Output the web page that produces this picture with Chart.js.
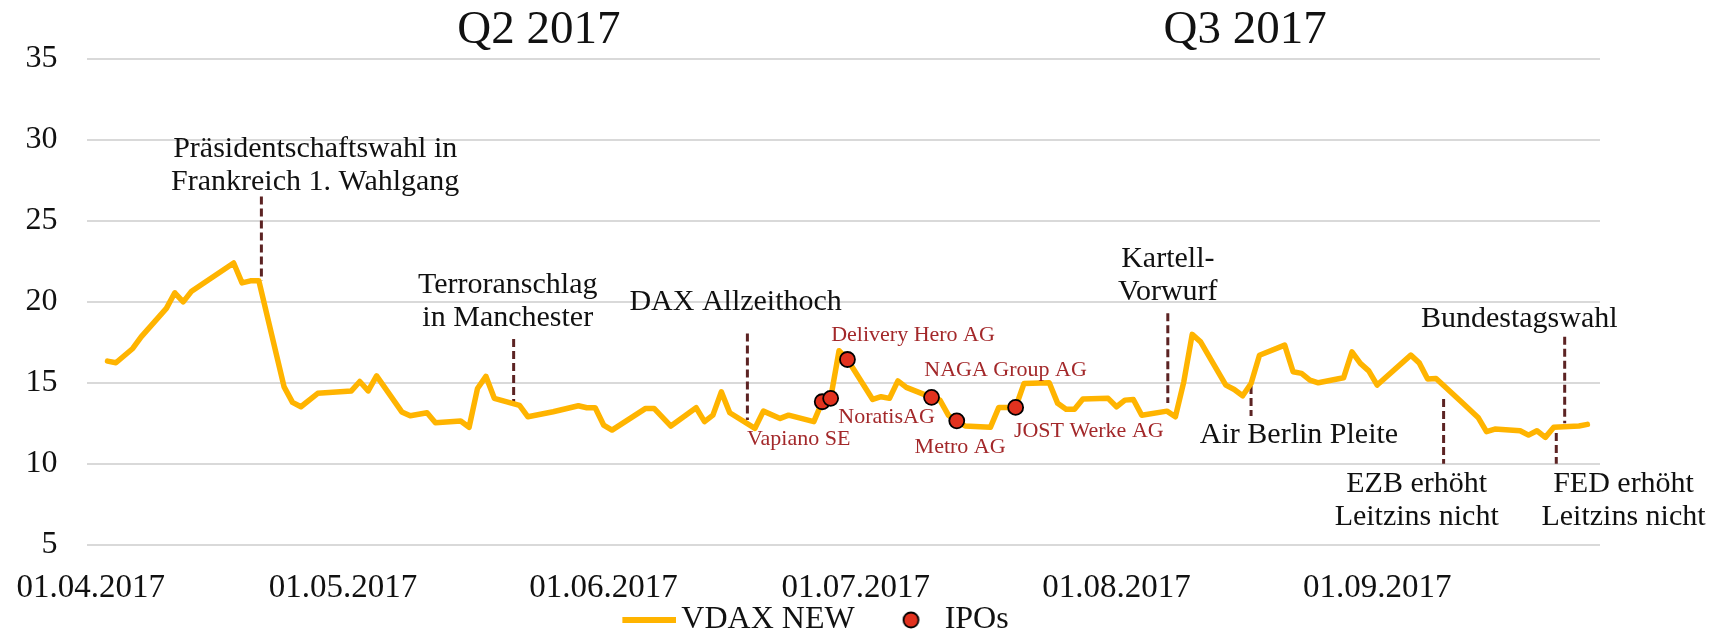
<!DOCTYPE html>
<html>
<head>
<meta charset="utf-8">
<script src="https://cdn.jsdelivr.net/npm/chart.js@4.4.1/dist/chart.umd.min.js"></script>
<style>
  html, body { margin: 0; padding: 0; background: #fff; }
  canvas { display: block; }
</style>
</head>
<body>
<canvas id="chart" width="1725" height="629"></canvas>
<script>
// VDAX NEW closing values (trading days where the line turns)
const vdaxDates = [
  '2017-04-03', '2017-04-04', '2017-04-06', '2017-04-07', '2017-04-10', '2017-04-11', '2017-04-12',
  '2017-04-13', '2017-04-18', '2017-04-19', '2017-04-20', '2017-04-21', '2017-04-24', '2017-04-25',
  '2017-04-26', '2017-04-28', '2017-05-02', '2017-05-03', '2017-05-04', '2017-05-05', '2017-05-08',
  '2017-05-09', '2017-05-11', '2017-05-12', '2017-05-15', '2017-05-16', '2017-05-17', '2017-05-18',
  '2017-05-19', '2017-05-22', '2017-05-23', '2017-05-26', '2017-05-29', '2017-05-30', '2017-05-31',
  '2017-06-01', '2017-06-02', '2017-06-06', '2017-06-07', '2017-06-09', '2017-06-12', '2017-06-13',
  '2017-06-14', '2017-06-15', '2017-06-16', '2017-06-19', '2017-06-20', '2017-06-22', '2017-06-23',
  '2017-06-26', '2017-06-27', '2017-06-28', '2017-06-29', '2017-06-30', '2017-07-03', '2017-07-04',
  '2017-07-05', '2017-07-06', '2017-07-07', '2017-07-10', '2017-07-11', '2017-07-12', '2017-07-13',
  '2017-07-14', '2017-07-17', '2017-07-18', '2017-07-20', '2017-07-21', '2017-07-24', '2017-07-25',
  '2017-07-26', '2017-07-27', '2017-07-28', '2017-07-31', '2017-08-01', '2017-08-02', '2017-08-03',
  '2017-08-04', '2017-08-07', '2017-08-08', '2017-08-09', '2017-08-10', '2017-08-11', '2017-08-14',
  '2017-08-15', '2017-08-16', '2017-08-17', '2017-08-18', '2017-08-21', '2017-08-22', '2017-08-23',
  '2017-08-24', '2017-08-25', '2017-08-28', '2017-08-29', '2017-08-30', '2017-08-31', '2017-09-01',
  '2017-09-05', '2017-09-06', '2017-09-07', '2017-09-08', '2017-09-11', '2017-09-13', '2017-09-14',
  '2017-09-15', '2017-09-18', '2017-09-19', '2017-09-20', '2017-09-21', '2017-09-22', '2017-09-25',
  '2017-09-26',
];
const vdaxValues = [
  16.34, 16.24, 17.12, 17.84, 19.6, 20.56, 20.0,
  20.66, 22.4, 21.17, 21.3, 21.3, 14.75, 13.79,
  13.52, 14.35, 14.5, 15.08, 14.5, 15.43, 13.2,
  12.96, 13.15, 12.53, 12.64, 12.25, 14.65, 15.4,
  14.04, 13.6, 12.9, 13.21, 13.58, 13.46, 13.46,
  12.39, 12.08, 13.42, 13.42, 12.33, 13.46, 12.6,
  13.0, 14.44, 13.15, 12.19, 13.25, 12.8, 13.0,
  12.6, 13.83, 14.04, 16.98, 16.44, 13.97, 14.14,
  14.04, 15.12, 14.72, 14.1, 13.93, 13.0, 12.65,
  12.33, 12.25, 13.48, 13.48, 14.96, 15.0, 13.73,
  13.36, 13.36, 14.0, 14.04, 13.52, 13.93, 13.97,
  13.0, 13.25, 12.9, 15.06, 17.99, 17.53, 14.86,
  14.59, 14.2, 14.96, 16.7, 17.33, 15.68, 15.58,
  15.17, 15.0, 15.31, 16.91, 16.2, 15.74, 14.86,
  16.71, 16.23, 15.23, 15.27, 13.83, 12.86, 11.98,
  12.14, 12.04, 11.77, 12.04, 11.63, 12.25, 12.33,
  12.43,
];

const ipoNames = ['Vapiano SE', 'NoratisAG', 'Delivery Hero AG', 'NAGA Group AG', 'Metro AG', 'JOST Werke AG'];
const ipoDates = ['2017-06-27', '2017-06-28', '2017-06-30', '2017-07-10', '2017-07-13', '2017-07-20'];
const ipoValues = [13.83, 14.04, 16.44, 14.1, 12.65, 13.48];

const monthTickDates = ['2017-04-01', '2017-05-01', '2017-06-01', '2017-07-01', '2017-08-01', '2017-09-01'];
const monthTickLabels = ['01.04.2017', '01.05.2017', '01.06.2017', '01.07.2017', '01.08.2017', '01.09.2017'];

const quarterLabels = ['Q2 2017', 'Q3 2017'];

const eventLabels = [
  ['Präsidentschaftswahl in', 'Frankreich 1. Wahlgang'],
  ['Terroranschlag', 'in Manchester'],
  ['DAX Allzeithoch'],
  ['Kartell-', 'Vorwurf'],
  ['Air Berlin Pleite'],
  ['EZB erhöht', 'Leitzins nicht'],
  ['Bundestagswahl'],
  ['FED erhöht', 'Leitzins nicht'],
];

// x values are days after 01.04.2017
const dayOf = (iso) => (Date.parse(iso) - Date.parse('2017-04-01')) / 86400000;

// placement of the annotations (x in days, y in axis units)
const quarterLayout = [{ day: 53.3, value: 36.0 }, { day: 137.3, value: 36.0 }];
const eventLayout = [
  { day: 20.3, top: 26.5, bottom: 21.3, labelDay: 26.7, labelValue: 28.95 },
  { day: 50.3, top: 17.7, bottom: 13.7, labelDay: 49.6, labelValue: 20.52 },
  { day: 78.1, top: 18.05, bottom: 12.7, labelDay: 76.7, labelValue: 19.49 },
  { day: 128.1, top: 19.3, bottom: 13.75, labelDay: 128.1, labelValue: 22.16 },
  { day: 138.0, top: 14.8, bottom: 12.95, labelDay: 143.7, labelValue: 11.31 },
  { day: 160.9, top: 14.0, bottom: 10.0, labelDay: 157.7, labelValue: 8.27 },
  { day: 175.3, top: 17.85, bottom: 12.5, labelDay: 169.9, labelValue: 18.46 },
  { day: 174.3, top: 11.9, bottom: 10.0, labelDay: 182.3, labelValue: 8.27 },
];
const ipoLabelLayout = [
  { day: 84.2, value: 11.15 },
  { day: 94.65, value: 12.54 },
  { day: 97.8, value: 17.59 },
  { day: 108.8, value: 15.41 },
  { day: 103.4, value: 10.64 },
  { day: 118.7, value: 11.65 },
];

const FONT = "'Liberation Serif', 'Times New Roman', serif";
const ORANGE = '#ffb400';
const IPO_RED = '#e2321f';
const TEXT_RED = '#a3282a';
const DASH = '#5c2323';

// legend symbols, drawn off-centre so they sit where the original has them
const makeSymbol = (w, h, draw) => {
  const c = document.createElement('canvas');
  c.width = w;
  c.height = h;
  draw(c.getContext('2d'));
  return c;
};
const lineSymbol = makeSymbol(96, 8, (g) => {
  g.fillStyle = ORANGE;
  g.fillRect(42, 1, 54, 6);
});
const ipoSymbol = makeSymbol(60, 20, (g) => {
  g.beginPath();
  g.arc(49.3, 10, 7.5, 0, Math.PI * 2);
  g.fillStyle = IPO_RED;
  g.fill();
  g.lineWidth = 1.8;
  g.strokeStyle = '#000';
  g.stroke();
});

const annotations = {
  id: 'annotations',
  beforeDatasetsDraw(chart) {
    const { ctx, scales: { x, y } } = chart;
    ctx.save();
    ctx.strokeStyle = DASH;
    ctx.lineWidth = 3;
    ctx.setLineDash([8, 4]);
    eventLayout.forEach((ev) => {
      const px = x.getPixelForValue(ev.day);
      ctx.beginPath();
      ctx.moveTo(px, y.getPixelForValue(ev.top));
      ctx.lineTo(px, y.getPixelForValue(ev.bottom));
      ctx.stroke();
    });
    ctx.restore();
  },
  afterDraw(chart) {
    const { ctx, scales: { x, y } } = chart;
    ctx.save();
    ctx.textAlign = 'center';
    ctx.textBaseline = 'alphabetic';

    ctx.fillStyle = '#111';
    ctx.font = `47px ${FONT}`;
    quarterLabels.forEach((label, i) => {
      ctx.fillText(label, x.getPixelForValue(quarterLayout[i].day), y.getPixelForValue(quarterLayout[i].value));
    });

    ctx.font = `30px ${FONT}`;
    eventLabels.forEach((lines, i) => {
      const cx = x.getPixelForValue(eventLayout[i].labelDay);
      const base = y.getPixelForValue(eventLayout[i].labelValue);
      lines.forEach((line, j) => ctx.fillText(line, cx, base + j * 33));
    });

    ctx.fillStyle = TEXT_RED;
    ctx.font = `22px ${FONT}`;
    ipoNames.forEach((name, i) => {
      ctx.fillText(name, x.getPixelForValue(ipoLabelLayout[i].day), y.getPixelForValue(ipoLabelLayout[i].value));
    });
    ctx.restore();
  },
};

new Chart(document.getElementById('chart'), {
  type: 'line',
  data: {
    datasets: [
      {
        label: 'VDAX NEW',
        data: vdaxDates.map((d, i) => ({ x: dayOf(d), y: vdaxValues[i] })),
        borderColor: ORANGE,
        borderWidth: 5.5,
        borderJoinStyle: 'round',
        borderCapStyle: 'round',
        pointRadius: 0,
        tension: 0,
        order: 1,
      },
      {
        label: 'IPOs',
        data: ipoDates.map((d, i) => ({ x: dayOf(d), y: ipoValues[i] })),
        showLine: false,
        pointRadius: 7.5,
        pointBackgroundColor: IPO_RED,
        pointBorderColor: '#000',
        pointBorderWidth: 1.8,
        order: 0,
      },
    ],
  },
  options: {
    responsive: false,
    animation: false,
    devicePixelRatio: 1,
    layout: { padding: { top: 59, right: 125, left: 0, bottom: -17 } },
    scales: {
      x: {
        type: 'linear',
        min: -0.5,
        max: 179.5,
        grid: { display: false },
        border: { display: false },
        afterBuildTicks: (scale) => {
          scale.ticks = monthTickDates.map((d) => ({ value: dayOf(d) }));
        },
        afterFit: (scale) => {
          scale.height = 59.3;
        },
        ticks: {
          autoSkip: false,
          maxRotation: 0,
          padding: 16,
          color: '#111',
          font: { family: FONT, size: 33 },
          callback: (value) => monthTickLabels[monthTickDates.findIndex((d) => dayOf(d) === value)],
        },
      },
      y: {
        min: 5,
        max: 35,
        grid: { color: '#d9d9d9', lineWidth: 2, drawTicks: false },
        border: { display: false },
        afterFit: (scale) => {
          scale.width = 86.5;
        },
        ticks: {
          stepSize: 5,
          padding: 29,
          color: '#111',
          font: { family: FONT, size: 32 },
        },
      },
    },
    plugins: {
      tooltip: { enabled: false },
      legend: {
        position: 'bottom',
        labels: {
          usePointStyle: true,
          pointStyleWidth: 74,
          boxHeight: 10,
          padding: 0,
          color: '#111',
          font: { family: FONT, size: 32 },
          generateLabels: () => [
            { text: 'VDAX NEW', pointStyle: lineSymbol, strokeStyle: ORANGE, fillStyle: ORANGE, lineWidth: 0, datasetIndex: 0, fontColor: '#111' },
            { text: 'IPOs', pointStyle: ipoSymbol, strokeStyle: '#000', fillStyle: IPO_RED, lineWidth: 0, datasetIndex: 1, fontColor: '#111' },
          ],
        },
      },
    },
  },
  plugins: [annotations],
});
</script>
</body>
</html>
